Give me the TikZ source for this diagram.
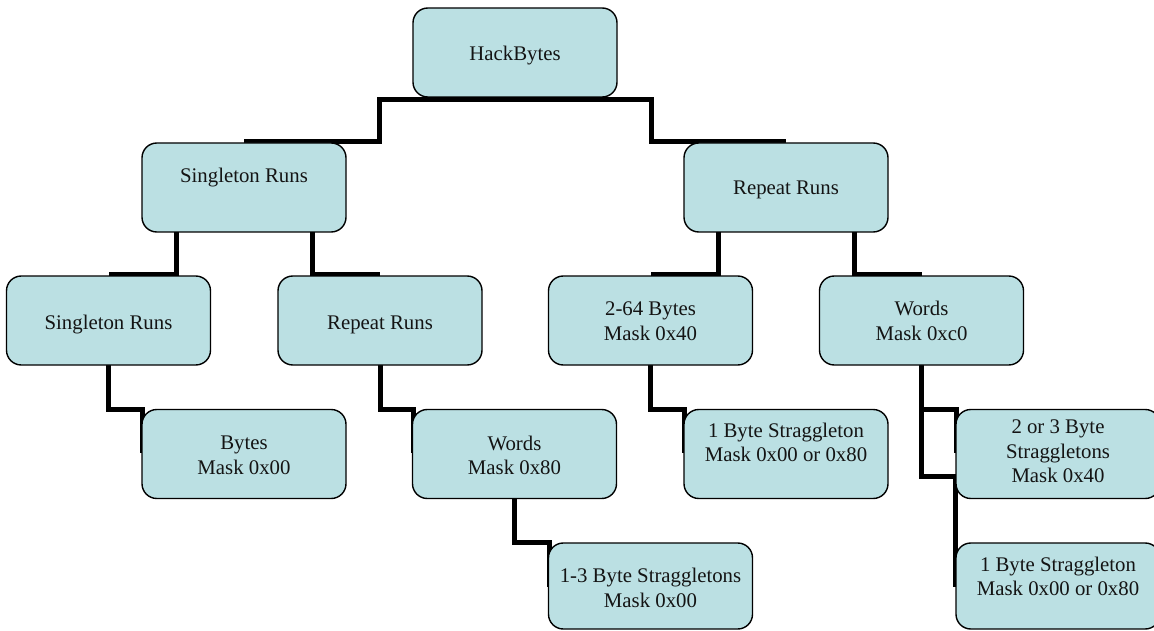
\documentclass[tikz,border=0pt]{standalone}
\usepackage{fontspec}
\setmainfont{Liberation Serif}
\usetikzlibrary{calc,backgrounds}
\definecolor{boxfill}{HTML}{BBE0E3}
\begin{document}
\begin{tikzpicture}[x=1pt,y=-1pt,
  box/.style={draw=black, line width=1.4pt, fill=boxfill, rounded corners=14.8pt,
    minimum width=204pt, minimum height=89pt, inner sep=0pt, outer sep=0pt},
  txt/.style={font=\fontsize{20.8}{24.5}\selectfont, align=center, inner sep=0pt, text=black!92},
  conn/.style={draw=black, line width=5pt, line join=miter}]
\useasboundingbox (0,0) rectangle (1154,631);
% boxes
\node[box] (hb) at (515,52.5) {};
\node[box] (s1) at (244,187.5) {};
\node[box] (r1) at (786,187.5) {};
\node[box] (s2) at (108.5,320.5) {};
\node[box] (r2) at (380,320.5) {};
\node[box] (b64) at (650.5,320.5) {};
\node[box] (w2) at (921.5,320.5) {};
\node[box] (bytes) at (244,454) {};
\node[box] (words) at (514.5,454) {};
\node[box] (st1) at (786,454) {};
\node[box] (st23) at (1058,454) {};
\node[box, minimum height=86pt] (s13) at (650.5,586) {};
\node[box, minimum height=86pt] (st1b) at (1058,586) {};
% texts
\node[txt] (hb-t) at (515,55.2) {HackBytes};
\node[txt] (s1-t) at (244,177.8) {Singleton Runs};
\node[txt] (r1-t) at (786,190) {Repeat Runs};
\node[txt] (s2-t) at (108.5,324.5) {Singleton Runs};
\node[txt] (r2-t) at (380,324.5) {Repeat Runs};
\node[txt] (b64-t) at (650.5,321) {2-64 Bytes\\Mask 0x40};
\node[txt] (w2-t) at (921.5,321) {Words\\Mask 0xc0};
\node[txt] (bytes-t) at (244,455.4) {Bytes\\Mask 0x00};
\node[txt] (words-t) at (514.5,455.4) {Words\\Mask 0x80};
\node[txt] (st1-t) at (786,442.4) {1 Byte Straggleton\\Mask 0x00 or 0x80};
\node[txt] (st23-t) at (1058,451.3) {2 or 3 Byte\\Straggletons\\Mask 0x40};
\node[txt] (s13-t) at (650.5,588) {1-3 Byte Straggletons\\Mask 0x00};
\node[txt] (st1b-t) at (1058,576.6) {1 Byte Straggleton\\Mask 0x00 or 0x80};
% connectors
\begin{pgfonlayer}{background}
\draw[conn] ($(s1.north)+(0,-1.5)$) -| ($(hb.south west)+(-34,3)$) -- ($(hb.south east)+(34,3)$) |- ($(r1.north)+(0,-1.5)$);
\draw[conn] ($(s1.south west)+(34,0)$) |- ($(s2.north)+(0,-1.5)$);
\draw[conn] ($(s1.south east)+(-34,0)$) |- ($(r2.north)+(0,-1.5)$);
\draw[conn] ($(r1.south west)+(34,0)$) |- ($(b64.north)+(0,-1.5)$);
\draw[conn] ($(r1.south east)+(-34,0)$) |- ($(w2.north)+(0,-1.5)$);
\draw[conn] (s2.south) |- ($(bytes.north west)+(0.5,-0.5)$) -- ($(bytes.west)+(0.5,-1)$);
\draw[conn] (r2.south) |- ($(words.north west)+(0.5,-0.5)$) -- ($(words.west)+(0.5,-1)$);
\draw[conn] (b64.south) |- ($(st1.north west)+(0.5,-0.5)$) -- ($(st1.west)+(0.5,-1)$);
\draw[conn] (words.south) |- ($(s13.north west)+(0.5,-0.5)$) -- ($(s13.west)+(0.5,1)$);
\draw[conn] (w2.south) |- ($(st23.north west)+(0.5,-0.5)$) -- ($(st23.west)+(0.5,-1)$);
\draw[conn] (w2.south) -- ($(w2.south)+(0,111)$) -| ($(st1b.west)+(-0.5,1)$);
\end{pgfonlayer}
\end{tikzpicture}
\end{document}
